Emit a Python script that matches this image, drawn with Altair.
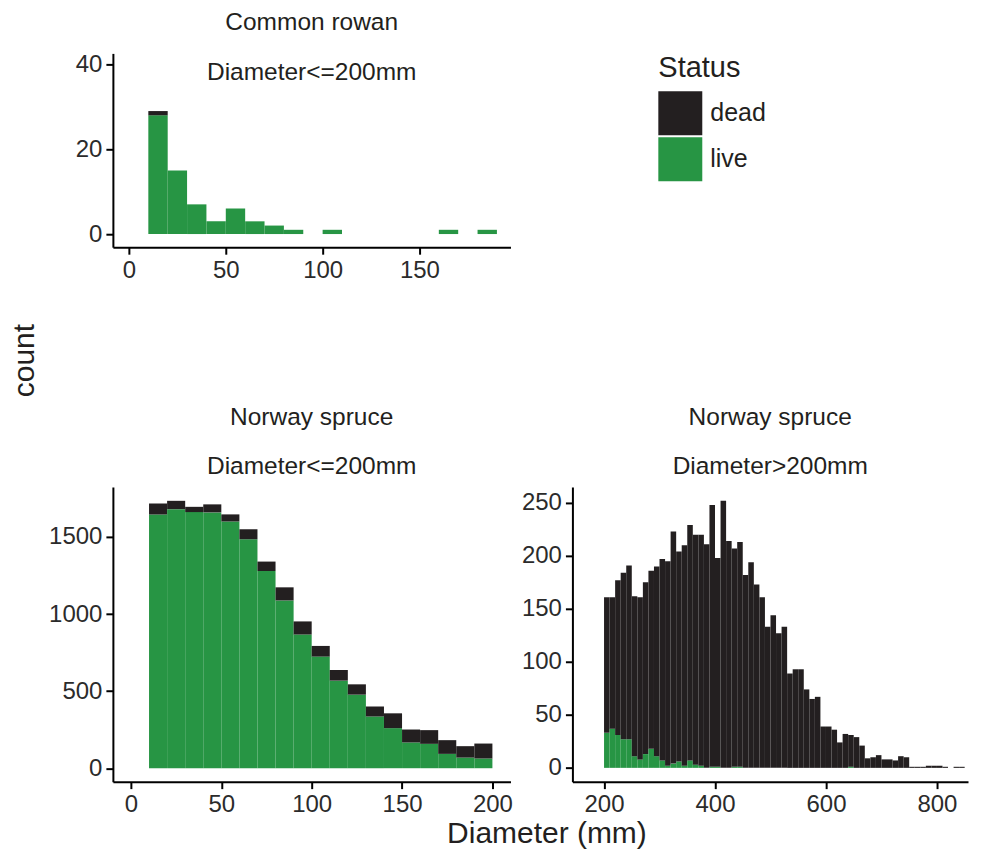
import altair as alt
import pandas as pd

BIN = 10
FONT = "Liberation Sans"
status_domain = ["dead", "live"]
status_colors = ["#231f20", "#279544"]

# Common rowan, Diameter<=200mm
rowan_starts = list(range(10, 190, BIN))
rowan_live = [28, 15, 7, 3, 6, 3, 2, 1, 0, 1, 0, 0, 0, 0, 0, 1, 0, 1]
rowan_dead = [1, 0, 0, 0, 0, 0, 0, 0, 0, 0, 0, 0, 0, 0, 0, 0, 0, 0]

# Norway spruce, Diameter<=200mm
small_starts = list(range(10, 200, BIN))
small_live = [1645, 1680, 1661, 1659, 1600, 1485, 1279, 1088, 867, 724,
              568, 477, 336, 260, 167, 158, 93, 69, 63]
small_dead = [72, 54, 34, 52, 46, 65, 61, 85, 85, 69,
              69, 67, 65, 96, 84, 89, 89, 74, 97]

# Norway spruce, Diameter>200mm
large_starts = list(range(200, 850, BIN))
large_live = [33, 37, 31, 27, 27, 11, 8, 13, 18, 11,
              7, 2, 4, 6, 2, 7, 3, 2, 0, 1,
              1, 0, 0, 1, 1, 0, 0, 0, 0, 0,
              0, 0, 0, 0, 0, 0, 0, 0, 0, 0,
              0, 0, 0, 0, 1, 0, 0, 0, 0, 0,
              0, 0, 0, 0, 0, 0, 0, 0, 0, 0,
              0, 0, 0, 0, 0]
large_dead = [128, 124, 146, 157, 164, 151, 153, 162, 168, 179,
              190, 193, 219, 198, 208, 222, 217, 218, 211, 247,
              197, 252, 214, 206, 212, 182, 194, 173, 161, 133,
              144, 127, 133, 89, 93, 93, 74, 65, 67, 39,
              39, 36, 24, 32, 30, 29, 21, 9, 10, 12,
              8, 8, 7, 11, 10, 1, 1, 1, 2, 2,
              2, 1, 0, 1, 1]


def make_df(starts, live, dead):
    rows = []
    for s, lv, dd in zip(starts, live, dead):
        rows.append(dict(start=s, end=s + BIN, Status="live", n=lv, rank=0))
        rows.append(dict(start=s, end=s + BIN, Status="dead", n=dd, rank=1))
    df = pd.DataFrame(rows)
    return df[df.n > 0]


def panel(df, xdom, ydom, xticks, yticks, w, h, title_lines, title_offset,
          xaxis_extra=None, yaxis_extra=None):
    xa = dict(values=xticks, title=None, format="d")
    ya = dict(values=yticks, title=None, format="d")
    if xaxis_extra:
        xa.update(xaxis_extra)
    if yaxis_extra:
        ya.update(yaxis_extra)
    return alt.Chart(df).transform_stack(
        stack="n", groupby=["start"], as_=["y0", "y1"],
        sort=[alt.SortField("rank", order="ascending")], offset="zero",
    ).mark_rect(strokeWidth=0).encode(
        x=alt.X("start:Q", scale=alt.Scale(domain=xdom, nice=False, zero=False),
                axis=alt.Axis(**xa)),
        x2="end:Q",
        y=alt.Y("y1:Q", scale=alt.Scale(domain=ydom, nice=False, zero=False),
                axis=alt.Axis(**ya)),
        y2="y0:Q",
        color=alt.Color("Status:N",
                        scale=alt.Scale(domain=status_domain, range=status_colors),
                        legend=alt.Legend(title="Status")),
    ).properties(
        width=w, height=h,
        title=alt.TitleParams(text=title_lines, fontSize=24.5, font=FONT,
                              fontWeight="normal", anchor="middle",
                              offset=title_offset, lineHeight=50,
                              color="#231f20"),
    )


top = panel(make_df(rowan_starts, rowan_live, rowan_dead),
            [-8.3, 197], [-3.1, 42.6], [0, 50, 100, 150], [0, 20, 40],
            398, 194, ["Common rowan", "Diameter<=200mm"], -33,
            yaxis_extra=dict(title="count", titleX=-88, titleY=307,
                             titleBaseline="middle", titleAlign="center",
                             titleAnchor="start", titleAngle=270))

bl = panel(make_df(small_starts, small_live, small_dead),
           [-10, 210], [-87, 1824], [0, 50, 100, 150, 200], [0, 500, 1000, 1500],
           398, 295, ["Norway spruce", "Diameter<=200mm"], 7,
           xaxis_extra=dict(title="Diameter (mm)", titleX=434, titleY=52,
                            titleBaseline="middle", titleAnchor="start",
                            titleAlign="center"))

br = panel(make_df(large_starts, large_live, large_dead),
           [143, 856], [-13, 265], [200, 400, 600, 800], [0, 50, 100, 150, 200, 250],
           396, 295, ["Norway spruce", "Diameter>200mm"], 7)

bottom = alt.hconcat(bl, br, spacing=62, bounds="flush")
chart = alt.vconcat(top, bottom, spacing=240, bounds="flush").resolve_scale(
    color="shared"
).configure(
    font=FONT,
).configure_view(
    stroke=None,
).configure_axis(
    grid=False,
    domainColor="#000000",
    domainWidth=2,
    tickColor="#000000",
    tickWidth=2,
    tickSize=7,
    labelFont=FONT,
    labelFontSize=24,
    labelColor="#2b2b2b",
    labelPadding=4,
    titleFont=FONT,
    titleFontSize=30,
    titleFontWeight="normal",
    titleColor="#231f20",
).configure_legend(
    orient="none",
    legendX=546,
    legendY=1,
    padding=0,
    titleFont=FONT,
    titleFontSize=29,
    titleFontWeight="normal",
    titleColor="#231f20",
    titlePadding=8,
    labelFont=FONT,
    labelFontSize=25,
    labelColor="#231f20",
    labelOffset=8,
    symbolType="square",
    symbolSize=1936,
    symbolStrokeWidth=0,
    symbolOpacity=1,
    rowPadding=2,
).properties(
    padding={"left": 2, "top": 1, "right": 5, "bottom": 5}
)

chart.save("out.html", embed_options={"renderer": "svg", "actions": False})
